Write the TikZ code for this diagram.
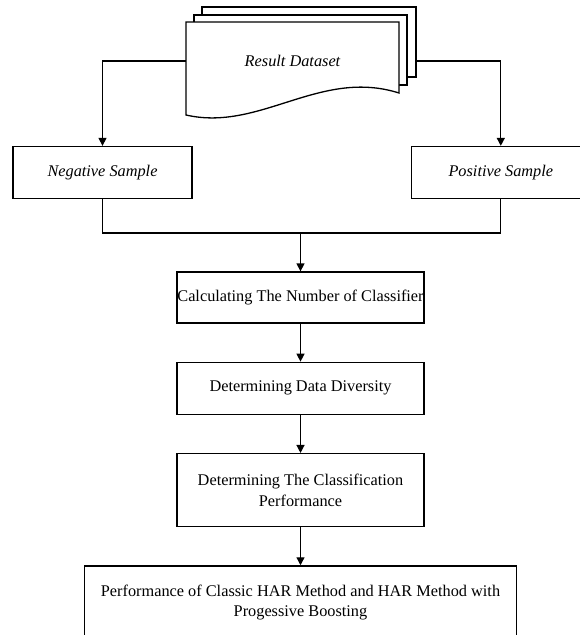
\documentclass[tikz,border=0pt]{standalone}
\usepackage{fontspec}
\setmainfont{Liberation Serif}
\usetikzlibrary{arrows.meta,positioning,calc}

\begin{document}
\begin{tikzpicture}[x=1pt, y=-1pt, node distance=38pt,
    box/.style={rectangle, draw, line width=1.3pt, fill=white, minimum width=247pt, minimum height=51pt, inner sep=0pt, align=center, font=\fontsize{16.3}{21}\selectfont},
    sample/.style={box, minimum width=179pt, minimum height=52pt, font=\fontsize{16.3}{21}\selectfont\itshape},
    sheet/.style={draw, line width=1.3pt, fill=white},
    arrow/.style={-{Triangle[width=8pt,length=8pt]}, line width=1.3pt},
    line/.style={line width=1.3pt}]

    \useasboundingbox (0,0) rectangle (579,635);

    % Stacked pages of the dataset
    \draw[sheet] (202,7) rectangle (416,77);
    \draw[sheet] (194,15) rectangle (407,85);
    \draw[sheet] (186,22) -- (399,22) -- (399,93) .. controls (320,68) and (260,132) .. (186,115) -- cycle;
    \node[minimum width=213pt, inner sep=0pt, font=\fontsize{16.3}{21}\selectfont\itshape] (data) at (292.5,61) {Result Dataset};
    \coordinate (stack) at (416,61);

    % Samples
    \node[sample] (neg) at (102.5,172.5) {Negative Sample};
    \node[sample, right=218pt of neg] (pos) {Positive Sample};

    % Steps
    \node[box] (calc) at (300.5,297.5) {Calculating The Number of Classifier};
    \node[box, below=of calc, minimum height=52pt] (div) {Determining Data Diversity};
    \node[box, below=of div, minimum height=73pt] (perf) {Determining The Classification\\Performance};
    \node[box, below=of perf, minimum width=432pt, minimum height=74pt, font=\fontsize{16.3}{20}\selectfont] (har) {Performance of Classic HAR Method and HAR Method with\\Progessive Boosting};

    % Connectors
    \coordinate (join) at (300.5,233);
    \draw[arrow] (data.west) -| (neg.north);
    \draw[arrow] (stack) -| (pos.north);
    \draw[line] (neg.south) |- (join) -| (pos.south);
    \draw[arrow] (join) -- (calc);
    \draw[arrow] (calc) -- (div);
    \draw[arrow] (div) -- (perf);
    \draw[arrow] (perf) -- (har);

\end{tikzpicture}
\end{document}
